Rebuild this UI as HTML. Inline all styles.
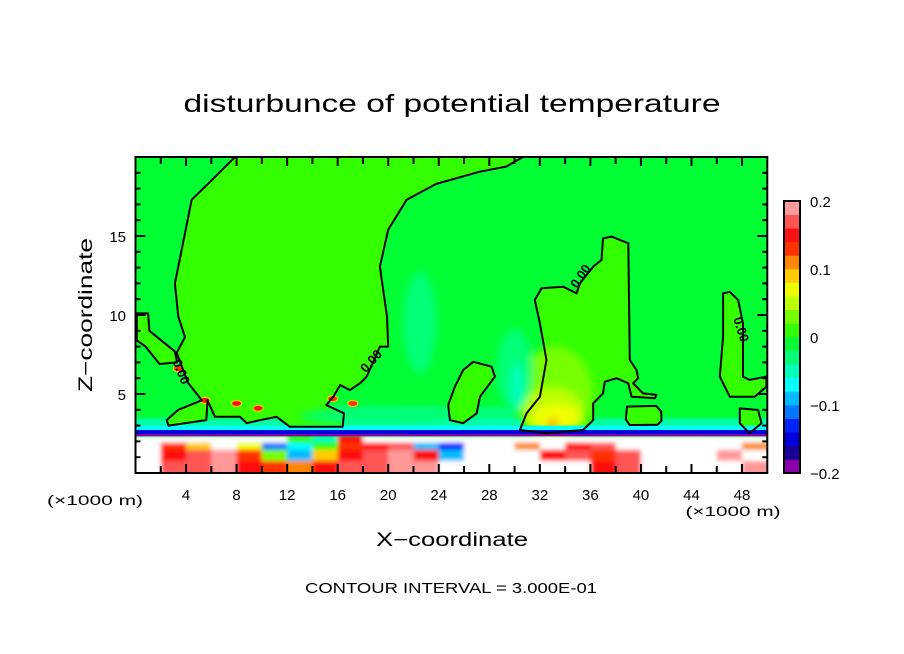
<!DOCTYPE html>
<html><head><meta charset="utf-8"><style>
html,body{margin:0;padding:0;background:#fff;}
svg{display:block;font-family:"Liberation Sans",sans-serif;}
</style></head><body>
<svg id="chart" width="904" height="654" viewBox="0 0 904 654">
<defs>
<filter id="blurBand" x="-5%" y="-20%" width="110%" height="140%"><feGaussianBlur stdDeviation="2"/></filter>
<filter id="blurBlob" x="-50%" y="-50%" width="200%" height="200%"><feGaussianBlur stdDeviation="4"/></filter>
</defs>
<rect x="0" y="0" width="904" height="654" fill="#fff"/>
<text x="452" y="112" font-size="25" text-anchor="middle" textLength="537" lengthAdjust="spacingAndGlyphs">disturbunce of potential temperature</text>
<g id="plot"></g>
<g id="cbar"></g>
<text x="452" y="546" font-size="19" text-anchor="middle" textLength="152" lengthAdjust="spacingAndGlyphs">X−coordinate</text>
<text transform="translate(92,315) rotate(-90)" font-size="19" text-anchor="middle" textLength="154" lengthAdjust="spacingAndGlyphs">Z−coordinate</text>
<text x="95" y="505" font-size="14" text-anchor="middle" textLength="96" lengthAdjust="spacingAndGlyphs">(×1000 m)</text>
<text x="733" y="516" font-size="14" text-anchor="middle" textLength="95" lengthAdjust="spacingAndGlyphs">(×1000 m)</text>
<text x="451" y="593" font-size="15" text-anchor="middle" textLength="292" lengthAdjust="spacingAndGlyphs">CONTOUR INTERVAL = 3.000E-01</text>
</svg>
<script>
// ---- data ----
const xTicks = [4,8,12,16,20,24,28,32,36,40,44,48];
const zTicks = [5,10,15];
const cbarTicks = [0.2,0.1,0,-0.1,-0.2];
const cbarTickLabels = ["0.2","0.1","0","−0.1","−0.2"];
const levelColors = ["#8800aa","#1a0099","#0000dd","#0022ff","#0077ff","#00bbff","#00ffff","#00ffbb","#00ff77","#00ff33",
                     "#33ff00","#77ff00","#bbff00","#eeff00","#ffcc00","#ff8800","#ff3300","#ff1111","#ff5555","#ff9999"];
const zEdges = [0,0.8,1.5,1.95,2.35,2.5,2.75,3.0,3.4,4.2];
const colWidth = 2;
const row0 = [0.3,0.17,0.17,0.19,0.15,0.12,0.11,0.15,0.17,0.16,0.19,0.19,0.3,0.3,0.3,0.3,0.3,0.3,0.15,0.17,0.3,0.3,0.3,0.3,0.19];
const row1 = [0.3,0.15,0.17,0.19,0.13,0.03,-0.1,0.09,0.15,0.17,0.19,0.15,-0.1,0.3,0.3,0.3,0.14,0.17,0.13,0.17,0.3,0.3,0.3,0.19,0.3];
const row2 = [0.3,0.13,0.09,0.3,0.07,-0.12,-0.08,0.01,0.13,0.15,0.17,-0.1,-0.14,0.3,0.3,0.11,0.3,0.15,0.17,0.3,0.3,0.3,0.3,0.3,0.11];
const row3 = [0.3,0.3,0.3,0.3,0.3,0.3,0.01,-0.05,0.15,0.3,0.3,0.3,0.3,0.3,0.3,0.3,0.3,0.3,0.3,0.3,0.3,0.3,0.3,0.3,0.3];
const row4 = [-0.19,-0.19,-0.19,-0.19,-0.19,-0.19,-0.19,-0.19,-0.19,-0.19,-0.19,-0.19,-0.19,-0.19,-0.19,-0.19,-0.19,-0.19,-0.19,-0.19,-0.19,-0.19,-0.19,-0.19,-0.19];
const row5 = [-0.15,-0.15,-0.15,-0.15,-0.15,-0.15,-0.15,-0.15,-0.15,-0.15,-0.15,-0.15,-0.15,-0.15,-0.15,-0.15,-0.15,-0.15,-0.15,-0.15,-0.15,-0.15,-0.15,-0.15,-0.15];
const row6 = [-0.07,-0.07,-0.07,-0.07,-0.07,-0.07,-0.07,-0.07,-0.07,-0.07,-0.07,-0.07,-0.07,-0.07,-0.07,-0.07,-0.07,-0.07,-0.07,-0.07,-0.07,-0.07,-0.07,-0.07,-0.07];
const row7 = [-0.05,-0.05,-0.05,-0.05,-0.05,-0.05,-0.05,-0.05,-0.05,-0.05,-0.05,-0.05,-0.05,-0.05,-0.05,-0.05,-0.05,-0.05,-0.05,-0.05,-0.05,-0.05,-0.05,-0.05,-0.05];
const row8 = [-0.01,-0.01,-0.01,-0.01,-0.01,-0.01,-0.03,-0.03,-0.03,-0.03,-0.03,-0.03,-0.03,-0.03,-0.03,-0.01,-0.01,-0.01,-0.01,-0.01,-0.01,-0.01,-0.01,-0.01,-0.01];
const bandRows = [row0,row1,row2,row3,row4,row5,row6,row7,row8];
// zero-contour regions (x km, z km)
const regionLeft = [[7.87,20],[6.0,18.5],[4.45,17.3],[3.65,14.1],[3.12,12.0],[3.39,9.9],[3.92,8.6],[3.26,7.6],[4.16,5.7],[5.24,4.6],[3.39,4.0],[2.47,3.35],[2.6,3.0],[5.6,3.35],[5.7,4.6],[6.29,3.56],[8.27,3.56],[8.8,3.15],[9.85,3.35],[11.17,3.56],[12.2,2.93],[16.4,2.93],[16.5,3.78],[15.1,4.3],[15.65,4.83],[16.2,5.57],[16.97,5.25],[17.8,5.7],[18.3,6.1],[19.34,8.0],[20.0,8.0],[19.9,9.9],[19.34,13.06],[20.0,15.4],[21.46,17.3],[23.8,18.3],[27.25,19.07],[29.36,19.4],[30.66,20]];
const regionA = [[24.88,3.35],[24.75,4.3],[25.28,5.46],[25.93,6.52],[26.73,7.04],[28.18,6.73],[28.44,6.1],[27.26,4.83],[27.0,3.78],[25.93,3.15]];
const regionB = [[30.42,2.72],[30.95,3.78],[32.0,4.83],[32.53,7.15],[32.0,9.47],[31.6,10.95],[32.14,11.69],[33.85,11.79],[34.9,11.37],[35.17,12.0],[36.22,13.06],[36.88,13.48],[37.0,14.85],[37.67,14.96],[39.0,14.54],[39.12,7.15],[39.65,6.52],[39.78,6.0],[39.38,5.68],[40.17,5.04],[41.23,4.94],[41.1,4.73],[39.26,4.83],[38.99,5.68],[38.07,6.0],[37.14,5.78],[37.0,5.04],[36.22,4.41],[36.22,3.35],[35.43,2.72],[32.53,2.51]];
const regionC = [[38.9,4.2],[41.2,4.25],[41.6,3.9],[41.63,3.3],[41.3,3.05],[39.1,3.04],[38.8,3.4]];
const regionD = [[46.5,11.37],[47.03,11.47],[47.69,10.95],[48.08,9.47],[48.08,6.1],[48.6,5.89],[49.93,6.1],[49.93,5.46],[49.0,4.83],[47.03,4.83],[46.64,5.46],[46.24,6.1],[46.5,8.63],[46.5,10.53]];
const regionE = [[47.82,4.09],[49.27,3.99],[49.54,3.15],[48.6,2.51],[47.82,3.15]];
const regionEdge = [[0.1,10.1],[1.0,10.1],[1.1,9.0],[3.1,7.7],[3.3,7.0],[1.9,6.9],[0.8,8.0],[0.1,8.4]];
const regions = [regionLeft,regionA,regionB,regionC,regionD,regionE,regionEdge];
// soft blobs: x, z, rx, rz, value
const blobX = [33.2,33.0,33.3,33.0,22.5,30.0,30.2,19.0];
const blobZ = [5.0,3.9,3.5,3.1,9.5,6.5,5.5,3.6];
const blobRX = [3.0,2.4,1.9,0.4,1.3,1.4,0.5,6.0];
const blobRZ = [3.0,1.5,0.9,0.3,3.2,2.6,1.4,0.5];
const blobV = [0.03,0.05,0.07,0.11,-0.03,-0.03,-0.05,-0.03];
// sharp hot spots: x, z, value
const spotX = [5.5,8.0,9.7,15.6,17.2,3.4];
const spotZ = [4.6,4.4,4.1,4.7,4.4,6.6];
const spotV = [0.15,0.15,0.15,0.13,0.13,0.13];
// contour labels
const labelX = [18.9,35.5,47.6,3.3];
const labelZ = [6.9,12.3,9.0,6.3];
const labelRot = [-48,-55,72,68];

// ---- scales ----
const X0=135.5, XS=12.636, Z0=473, ZS=15.8;
const sx = x => X0 + x*XS;
const sz = z => Z0 - z*ZS;
const colorFor = v => { if (v < -0.2 || v > 0.2) return "#ffffff"; let i=Math.floor((v+0.2)/0.02); if(i>19)i=19; if(i<0)i=0; return levelColors[i]; };
const NS="http://www.w3.org/2000/svg";
function mk(tag, attrs, parent){ const e=document.createElementNS(NS,tag); for(const k in attrs) e.setAttribute(k,attrs[k]); parent.appendChild(e); return e; }

const plot = document.getElementById('plot');
const clip = mk('clipPath',{id:'pc'},plot);
mk('rect',{x:sx(0),y:sz(20),width:sx(50)-sx(0),height:sz(0)-sz(20)},clip);
const inner = mk('g',{'clip-path':'url(#pc)'},plot);
const bg = mk('rect',{x:sx(0),y:sz(20),width:sx(50)-sx(0),height:sz(0)-sz(20),fill:colorFor(-0.01)},inner);



function drawRows(idxs, parent){
  const nCols = bandRows[0].length;
  idxs.forEach(r=>{
    bandRows[r].forEach((v,c)=>{
      let x0=c*colWidth, x1=(c+1)*colWidth;
      if(c===0) x0-=1;
      if(c===nCols-1) x1+=1;
      let zb=zEdges[r], zt=zEdges[r+1];
      if(r===0) zb-=1;
      const cell = mk('rect',{x:sx(x0),y:sz(zt),width:sx(x1)-sx(x0)+0.5,height:sz(zb)-sz(zt)+0.5,fill:colorFor(v)},parent);
      
      
    });
  });
}
const ptsStr = arr => arr.map(p=>sx(p[0]).toFixed(1)+','+sz(p[1]).toFixed(1)).join(' ');

const upperBand = mk('g',{filter:'url(#blurBand)'},inner);
drawRows([7,8], upperBand);
regions.forEach(reg=>{
  const p = mk('polygon',{points:ptsStr(reg),fill:colorFor(0.01),stroke:'none'},inner);
  
  
});
const blobG = mk('g',{filter:'url(#blurBlob)'},inner);
blobX.forEach((x,i)=>{
  const e = mk('ellipse',{cx:sx(x),cy:sz(blobZ[i]),rx:blobRX[i]*XS,ry:blobRZ[i]*ZS,fill:colorFor(blobV[i])},blobG);
  
  
});
spotX.forEach((x,i)=>{
  const e = mk('ellipse',{cx:sx(x),cy:sz(spotZ[i]),rx:5,ry:3,fill:colorFor(spotV[i]),stroke:'#ffcc00','stroke-width':1},inner);
  
  
});
const lowerBand = mk('g',{filter:'url(#blurBand)'},inner);
drawRows([0,1,2,3], lowerBand);
const sharpBand = mk('g',{},inner);
drawRows([4,5,6], sharpBand);
regions.forEach(reg=>{
  const p = mk('polygon',{points:ptsStr(reg),fill:'none',stroke:'#000','stroke-width':2,'stroke-linejoin':'round'},inner);
  
  
});
labelX.forEach((x,i)=>{
  const t = mk('text',{x:0,y:0,'font-size':13,'text-anchor':'middle','font-weight':'bold',transform:`translate(${sx(x)},${sz(labelZ[i])}) rotate(${labelRot[i]})`},inner);
  t.textContent='0.00';
  
  
});

// ticks & frame
const axes = mk('g',{},plot);
for(let x=2;x<50;x+=2){
  const len = (x%4===0)?9:7;
  const t1=mk('line',{x1:sx(x),x2:sx(x),y1:sz(0),y2:sz(0)-len,stroke:'#000','stroke-width':2},axes);
  
  
  const t2=mk('line',{x1:sx(x),x2:sx(x),y1:sz(20),y2:sz(20)+len,stroke:'#000','stroke-width':2},axes);
  
  
}
for(let z=1;z<20;z++){
  const len=(z%5===0)?10:5;
  const t1=mk('line',{x1:sx(0),x2:sx(0)+len,y1:sz(z),y2:sz(z),stroke:'#000','stroke-width':2},axes);
  
  
  const t2=mk('line',{x1:sx(50),x2:sx(50)-len,y1:sz(z),y2:sz(z),stroke:'#000','stroke-width':2},axes);
  
  
}
const fr = mk('rect',{x:sx(0),y:sz(20),width:sx(50)-sx(0),height:sz(0)-sz(20),fill:'none',stroke:'#000','stroke-width':2},axes);


xTicks.forEach(x=>{
  const t=mk('text',{x:sx(x),y:500,'font-size':15,'text-anchor':'middle'},axes);
  t.textContent=String(x);
  
  
});
zTicks.forEach(z=>{
  const t=mk('text',{x:126,y:sz(z)+6,'font-size':15,'text-anchor':'end'},axes);
  t.textContent=String(z);
  
  
});

// colorbar
const cb = document.getElementById('cbar');
const CBX=784, CBW=16, CBT=201, CBB=473;
const cy = v => CBB - (v+0.2)/0.4*(CBB-CBT);
levelColors.forEach((c,i)=>{
  const v0=-0.2+i*0.02, v1=v0+0.02;
  const r=mk('rect',{x:CBX,y:cy(v1),width:CBW,height:cy(v0)-cy(v1)+0.3,fill:c},cb);
  
  
});
const cbf=mk('rect',{x:CBX,y:CBT,width:CBW,height:CBB-CBT,fill:'none',stroke:'#000','stroke-width':2},cb);


cbarTicks.forEach((v,i)=>{
  const t=mk('text',{x:810,y:cy(v)+6,'font-size':15},cb);
  t.textContent=cbarTickLabels[i];
  
  
});
</script>
</body></html>
